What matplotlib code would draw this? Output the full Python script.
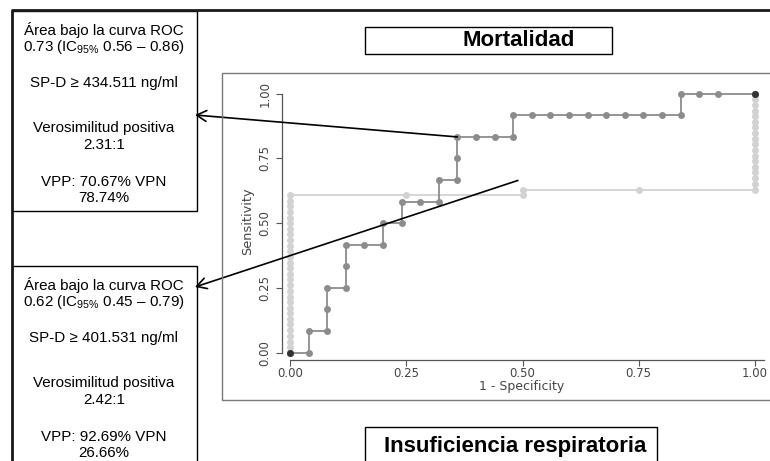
import matplotlib
matplotlib.use("Agg")
import matplotlib.pyplot as plt
from matplotlib.patches import Rectangle
from matplotlib.lines import Line2D

plt.rcParams['font.family'] = ['Liberation Sans', 'DejaVu Sans']
plt.rcParams['mathtext.fontset'] = 'custom'
plt.rcParams['mathtext.rm'] = 'Liberation Sans'

# ROC curve, mortality (1 - specificity, sensitivity)
mort_fpr = [0.00, 0.04, 0.04, 0.08, 0.08, 0.08, 0.12, 0.12, 0.12, 0.16, 0.20, 0.20,
            0.24, 0.24, 0.28, 0.32, 0.32, 0.36, 0.36, 0.36, 0.40, 0.44, 0.48, 0.48,
            0.52, 0.56, 0.60, 0.64, 0.68, 0.72, 0.76, 0.80, 0.84, 0.84, 0.88, 0.92, 1.00]
mort_tpr = [0.000, 0.000, 0.083, 0.083, 0.167, 0.250, 0.250, 0.333, 0.417, 0.417, 0.417, 0.500,
            0.500, 0.583, 0.583, 0.583, 0.667, 0.667, 0.750, 0.833, 0.833, 0.833, 0.833, 0.917,
            0.917, 0.917, 0.917, 0.917, 0.917, 0.917, 0.917, 0.917, 0.917, 1.000, 1.000, 1.000, 1.000]

# ROC curve, respiratory failure
resp_fpr = [0.00] * 29 + [0.25, 0.50, 0.50, 0.75] + [1.00] * 18
resp_tpr = [0.000, 0.022, 0.043, 0.065, 0.087, 0.109, 0.130, 0.152, 0.174, 0.196,
            0.217, 0.239, 0.261, 0.283, 0.304, 0.326, 0.348, 0.370, 0.391, 0.413,
            0.435, 0.457, 0.478, 0.500, 0.522, 0.543, 0.565, 0.587, 0.609,
            0.609, 0.609, 0.630, 0.630,
            0.630, 0.652, 0.674, 0.696, 0.717, 0.739, 0.761, 0.783, 0.804, 0.826,
            0.848, 0.870, 0.891, 0.913, 0.935, 0.957, 0.978, 1.000]

ticks = [0.00, 0.25, 0.50, 0.75, 1.00]
tick_labels = ['0.00', '0.25', '0.50', '0.75', '1.00']

mort_lines = ['Área bajo la curva ROC',
              r'0.73 (IC$_{\mathrm{95\%}}$ 0.56 – 0.86)',
              'SP-D ≥ 434.511 ng/ml',
              'Verosimilitud positiva',
              '2.31:1',
              'VPP: 70.67% VPN',
              '78.74%']
resp_lines = ['Área bajo la curva ROC',
              r'0.62 (IC$_{\mathrm{95\%}}$ 0.45 – 0.79)',
              'SP-D ≥ 401.531 ng/ml',
              'Verosimilitud positiva',
              '2.42:1',
              'VPP: 92.69% VPN',
              '26.66%']

W, H = 770, 461
fig = plt.figure(figsize=(W / 100, H / 100), dpi=100)
fig.patch.set_facecolor('white')


def fx(x):
    return x / W


def fy(y):
    return 1 - y / H


def box(x0, y0, x1, y1, color='black', lw=1.0):
    fig.add_artist(Rectangle((fx(x0), fy(y1)), fx(x1 - x0), (y1 - y0) / H,
                             transform=fig.transFigure, fill=False,
                             edgecolor=color, linewidth=lw))


# slide frame: top and left rule
fig.add_artist(Line2D([fx(12), fx(12), fx(W)], [fy(H + 2), fy(10.5), fy(10.5)],
                      transform=fig.transFigure, color='#1a1a1a', lw=2.0))

# frame around the plot image
box(222, 73, W + 5, 400, color='#7a7a7a', lw=1.0)

# ROC axes
ax = fig.add_axes([280.7 / W, (H - 357.9) / H, 483.6 / W, 269.4 / H])
ax.set_xlim(-0.02, 1.02)
ax.set_ylim(-0.02, 1.02)
ax.patch.set_alpha(0)

ax.plot(resp_fpr, resp_tpr, color='#d2d2d2', lw=1.3, marker='o', ms=5,
        mec='none', clip_on=False, zorder=2)
ax.plot(mort_fpr, mort_tpr, color='#8c8c8c', lw=1.3, marker='o', ms=5,
        mec='none', clip_on=False, zorder=3)
ax.plot([mort_fpr[0], mort_fpr[-1]], [mort_tpr[0], mort_tpr[-1]], ls='none',
        marker='o', ms=5, color='#333333', mec='none', clip_on=False, zorder=4)

for s in ['top', 'right']:
    ax.spines[s].set_visible(False)
ax.spines['left'].set_position(('data', -0.017))
ax.spines['bottom'].set_position(('data', -0.028))
ax.spines['left'].set_bounds(0, 1)
ax.spines['bottom'].set_bounds(0, 1.02)
for s in ['left', 'bottom']:
    ax.spines[s].set_color('#555555')
    ax.spines[s].set_linewidth(0.9)

ax.set_xticks(ticks)
ax.set_xticklabels(tick_labels)
ax.set_yticks(ticks)
ax.set_yticklabels(tick_labels, rotation=90, va='center')
ax.tick_params(direction='out', length=4, width=0.8, color='#555555',
               labelcolor='#444444', labelsize=8.5)
ax.tick_params(axis='x', pad=1.0)
ax.tick_params(axis='y', pad=3.5)
for lab in ax.get_xticklabels() + ax.get_yticklabels():
    lab.set_fontfamily('DejaVu Sans')

fig.text(fx(248), fy(221), 'Sensitivity', rotation=90, ha='center', va='center',
         fontsize=9.3, color='#444444', family='DejaVu Sans')
fig.text(fx(522), fy(386), '1 - Specificity', ha='center', va='center',
         fontsize=9, color='#444444', family='DejaVu Sans')

# title boxes
box(365, 27, 612, 54)
fig.text(fx(518.5), fy(41), 'Mortalidad', ha='center', va='center',
         fontsize=16, fontweight='bold')
box(365, 427, 657, H + 5)
fig.text(fx(515.5), fy(446), 'Insuficiencia respiratoria', ha='center', va='center',
         fontsize=16, fontweight='bold')

# result boxes
box(12, 11, 197, 211)
box(12, 266, 197, H + 5)
line_y = [30, 47, 83, 128, 145, 182, 198]
for txt, yy in zip(mort_lines, line_y):
    fig.text(fx(104), fy(yy), txt, ha='center', va='center', fontsize=10.9)
for txt, yy in zip(resp_lines, line_y):
    fig.text(fx(104), fy(yy + 255), txt, ha='center', va='center', fontsize=10.9)

# arrows from the cut-off points to the boxes
arrow = dict(arrowstyle='->,head_length=0.5,head_width=0.28', color='black',
             lw=1.2, shrinkA=0, shrinkB=0, mutation_scale=14)
ax.annotate('', xy=(fx(195), fy(115)), xycoords='figure fraction',
            xytext=(0.36, 0.833), textcoords='data', arrowprops=arrow,
            annotation_clip=False, zorder=5)
ax.annotate('', xy=(fx(195), fy(287)), xycoords='figure fraction',
            xytext=(0.49, 0.665), textcoords='data', arrowprops=arrow,
            annotation_clip=False, zorder=5)

fig.savefig('out.png', dpi=100, facecolor='white')
